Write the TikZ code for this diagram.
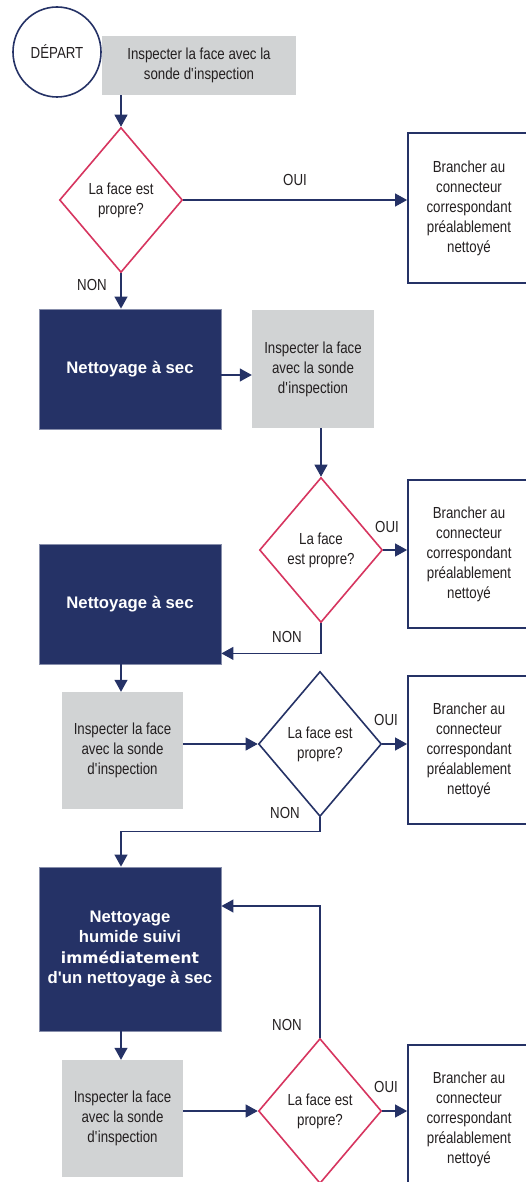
\documentclass[tikz,border=0pt]{standalone}
\usepackage{fontspec}
\setmainfont{Liberation Sans}[FakeStretch=0.83]
\newfontfamily\boldfam{Liberation Sans}
\newfontfamily\verdfam{DejaVu Sans}
\usetikzlibrary{shapes.geometric,arrows.meta,calc}
\definecolor{navy}{HTML}{253266}
\definecolor{crim}{HTML}{D6355F}
\definecolor{lgray}{HTML}{D1D3D4}
\definecolor{txt}{HTML}{231F20}
\begin{document}
\begin{tikzpicture}[x=1pt,y=-1pt,
 base/.style={inner sep=0pt, align=center, text=txt, font=\fontsize{16}{20}\selectfont},
 graybox/.style={base, rectangle, fill=lgray},
 navybox/.style={base, rectangle, fill=navy, draw=navy!55!white, line width=0.8pt, text=white, font=\boldfam\bfseries\fontsize{16.7}{20.5}\selectfont},
 endbox/.style={base, rectangle, draw=navy, line width=1.8pt, minimum width=122pt},
 decide/.style={base, diamond, draw=crim, line width=1.6pt, minimum width=123pt, minimum height=145pt},
 conn/.style={draw=navy, line width=1.1pt, -{Triangle[length=12pt,width=13pt]}},
 lbl/.style={text=txt, font=\fontsize{16}{18}\selectfont, inner sep=0pt}
]
\useasboundingbox (0,0) rectangle (526,1182);

% start
\node[base, ellipse, draw=navy, line width=1.6pt, minimum width=88pt, minimum height=90pt] (start) at (57,52) {D\'EPART};
\node[graybox, minimum width=194pt, minimum height=59pt] (g1) at (199,65.5) {Inspecter la face avec la\\sonde d\textquotesingle inspection};

% level 1
\node[decide] (d1) at (121,200) {La face est\\propre?};
\node[endbox, minimum height=150pt] (r1) at (469,208) {Brancher au\\connecteur\\correspondant\\pr\'ealablement\\nettoy\'e};

% level 2
\node[navybox, minimum width=182pt, minimum height=120pt] (n1) at (130,369) {Nettoyage \`a sec};
\node[graybox, minimum width=122pt, minimum height=118pt] (g2) at (313,369) {Inspecter la face\\avec la sonde\\d\textquotesingle inspection};

% level 3
\node[decide] (d2) at (321,550) {La face\\est propre?};
\node[endbox, minimum height=148pt] (r2) at (469,554) {Brancher au\\connecteur\\correspondant\\pr\'ealablement\\nettoy\'e};
\node[navybox, minimum width=182pt, minimum height=120pt] (n2) at (130,604) {Nettoyage \`a sec};

% level 4
\node[graybox, minimum width=121pt, minimum height=117pt] (g3) at (122.5,750.5) {Inspecter la face\\avec la sonde\\d\textquotesingle inspection};
\node[decide, draw=navy] (d3) at (320,744) {La face est\\propre?};
\node[endbox, minimum height=148pt] (r3) at (469,750) {Brancher au\\connecteur\\correspondant\\pr\'ealablement\\nettoy\'e};

% level 5
\node[navybox, minimum width=182pt, minimum height=164pt] (n3) at (130,949) {Nettoyage\\humide suivi\\{\verdfam\bfseries\fontsize{15.5}{20.5}\selectfont imm\'ediatement}\\d\textquotesingle un nettoyage \`a sec};
\node[graybox, minimum width=121pt, minimum height=117pt] (g4) at (122.5,1118.5) {Inspecter la face\\avec la sonde\\d\textquotesingle inspection};
\node[decide] (d4) at (320,1111) {La face est\\propre?};
\node[endbox, minimum height=148pt] (r4) at (469,1119) {Brancher au\\connecteur\\correspondant\\pr\'ealablement\\nettoy\'e};

% connectors
\draw[conn] (g1.south -| d1.north) -- (d1.north);
\draw[conn] (d1.east) -- (d1.east -| r1.west);
\draw[conn] (d1.south) -- (n1.north -| d1.south);
\draw[conn] ([yshift=-6pt]n1.east) -- ([yshift=-6pt]g2.west);
\draw[conn] (g2.south -| d2.north) -- (d2.north);
\draw[conn] (d2.east) -- (d2.east -| r2.west);
\draw[conn] (d2.south) |- ([yshift=11pt]n2.south east);
\draw[conn] ([xshift=-9pt]n2.south) -- (g3.north -| 121,0);
\draw[conn] (g3.east |- d3.west) -- (d3.west);
\draw[conn] (d3.east) -- (d3.east -| r3.west);
\draw[conn] (d3.south) -- ++(0,14) -| ([xshift=-9pt]n3.north);
\draw[conn] ([xshift=-9pt]n3.south) -- (g4.north -| 121,0);
\draw[conn] (g4.east |- d4.west) -- (d4.west);
\draw[conn] (d4.east) -- (d4.east -| r4.west);
\draw[conn] (d4.north) |- ([yshift=43pt]n3.east);

% labels
\node[lbl] (oui1) at (295,180) {OUI};
\node[lbl] (oui2) at (387,527) {OUI};
\node[lbl] (oui3) at (386,720) {OUI};
\node[lbl] (oui4) at (386,1087) {OUI};
\node[lbl] (non1) at (92,285) {NON};
\node[lbl] (non2) at (287,637) {NON};
\node[lbl] (non3) at (285,813) {NON};
\node[lbl] (non4) at (287,1025) {NON};
\end{tikzpicture}
\end{document}
